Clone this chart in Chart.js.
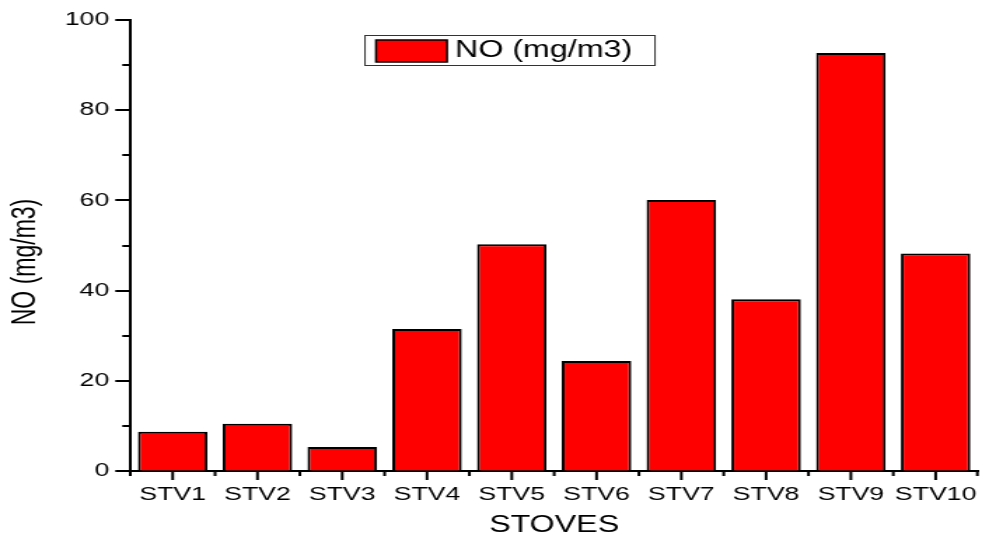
<!DOCTYPE html>
<html>
<head>
<meta charset="utf-8">
<script src="https://cdn.jsdelivr.net/npm/chart.js@4/dist/chart.umd.min.js"></script>
<style>
html,body{margin:0;padding:0;background:#fff;overflow:hidden;}
#wrap{width:982px;height:542px;position:relative;}
#c{width:982px !important;height:542px !important;display:block;}
</style>
</head>
<body>
<div id="wrap"><canvas id="c" width="701" height="542" style="width:982px;height:542px"></canvas></div>
<script>
const categories = ['STV1','STV2','STV3','STV4','STV5','STV6','STV7','STV8','STV9','STV10'];
const noValues = [8.7, 10.5, 5.3, 31.5, 50.3, 24.4, 60.1, 38.1, 92.7, 48.2];
const seriesLabel = 'NO (mg/m3)';
const yTitle = 'NO (mg/m3)';
const xTitle = 'STOVES';
const yMin = 0, yMax = 100, yMajorStep = 20, yMinorStep = 10;

const FONT = '"Liberation Sans", Arial, sans-serif';
// The original picture is horizontally stretched; the canvas is drawn narrower and stretched by CSS.
const SX = 982 / 701;

const customPlugin = {
  id: 'custom',
  afterDraw(chart) {
    const ctx = chart.ctx;
    const x = chart.scales.x, y = chart.scales.y;
    const area = chart.chartArea;
    ctx.save();
    ctx.strokeStyle = '#000';
    ctx.lineWidth = 2;
    // y ticks (major and minor)
    for (let v = yMin; v <= yMax; v += yMinorStep) {
      const py = Math.round(y.getPixelForValue(v));
      const major = (v % yMajorStep) === 0;
      const len = (major ? 15 : 8) / SX;
      ctx.beginPath();
      ctx.moveTo(area.left, py);
      ctx.lineTo(area.left - len, py);
      ctx.stroke();
    }
    // x ticks: major at category centres, minor at boundaries
    const n = categories.length;
    const w = (area.right - area.left) / n;
    for (let i = 0; i < n; i++) {
      const px = x.getPixelForValue(i);
      ctx.beginPath();
      ctx.moveTo(px, area.bottom);
      ctx.lineTo(px, area.bottom + 9);
      ctx.stroke();
    }
    for (let i = 0; i <= n; i++) {
      const px = Math.min(area.left + i * w, area.right - 0.5);
      ctx.beginPath();
      ctx.moveTo(px, area.bottom);
      ctx.lineTo(px, area.bottom + 5);
      ctx.stroke();
    }
    // y title
    ctx.fillStyle = '#000';
    ctx.font = '23px ' + FONT;
    ctx.textAlign = 'center';
    ctx.textBaseline = 'middle';
    ctx.translate(26 / SX, 262);
    ctx.rotate(-Math.PI / 2);
    ctx.fillText(yTitle, 0, 0);
    ctx.restore();

    // legend
    ctx.save();
    const lx = 365 / SX, lw = 290 / SX;
    ctx.fillStyle = '#fff';
    ctx.fillRect(lx, 35, lw, 30);
    ctx.strokeStyle = '#333';
    ctx.lineWidth = 1;
    ctx.strokeRect(lx, 35.5, lw, 30);
    const ds = chart.data.datasets[0];
    const sx0 = 376 / SX, sw = 71 / SX;
    ctx.fillStyle = ds.backgroundColor;
    ctx.fillRect(sx0, 40, sw, 22);
    ctx.strokeStyle = '#000';
    ctx.lineWidth = 1.5;
    ctx.strokeRect(sx0, 40, sw, 22);
    ctx.fillStyle = '#000';
    ctx.font = '23px ' + FONT;
    ctx.textAlign = 'left';
    ctx.textBaseline = 'middle';
    ctx.fillText(ds.label, 455 / SX, 51);
    ctx.restore();
  }
};

new Chart(document.getElementById('c'), {
  type: 'bar',
  data: {
    labels: categories,
    datasets: [{
      label: seriesLabel,
      data: noValues,
      backgroundColor: '#ff0000',
      borderColor: '#000',
      borderWidth: 2,
      barPercentage: 0.82,
      categoryPercentage: 1.0
    }]
  },
  options: {
    responsive: false,
    animation: false,
    devicePixelRatio: 1,
    layout: { padding: { top: 20, right: 1, left: 0, bottom: 0 } },
    plugins: { legend: { display: false }, tooltip: { enabled: false } },
    scales: {
      x: {
        grid: { drawOnChartArea: false, drawTicks: true, tickLength: 8, tickColor: 'rgba(0,0,0,0)' },
        border: { display: true, color: '#000', width: 2 },
        ticks: { color: '#000', font: { family: FONT, size: 19 }, padding: 4, maxRotation: 0, autoSkip: false },
        title: { display: true, text: xTitle, color: '#000', font: { family: FONT, size: 23 }, padding: { top: 0, bottom: 3 } },
        afterFit(scale) { scale.height = 71; }
      },
      y: {
        min: yMin, max: yMax,
        grid: { drawOnChartArea: false, drawTicks: true, tickLength: 11, tickColor: 'rgba(0,0,0,0)' },
        border: { display: true, color: '#000', width: 2 },
        ticks: { stepSize: yMajorStep, color: '#000', font: { family: FONT, size: 19 }, padding: 4 },
        afterFit(scale) { scale.width = 93; }
      }
    }
  },
  plugins: [customPlugin]
});
</script>
</body>
</html>
